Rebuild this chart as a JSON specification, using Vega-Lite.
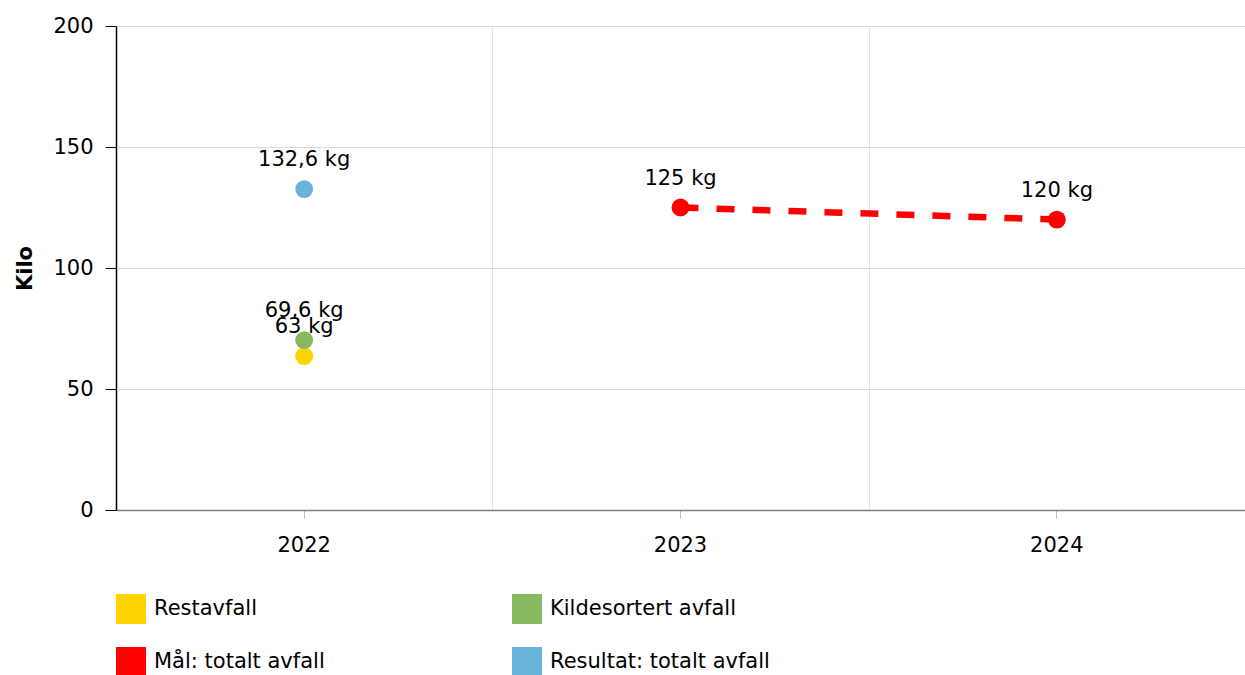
{
  "$schema": "https://vega.github.io/schema/vega-lite/v6.json",
  "autosize": {"type": "none"},
  "padding": {"left": 116, "top": 26, "right": 0, "bottom": 165},
  "width": 1129,
  "height": 484,
  "background": "white",
  "config": {
    "font": "DejaVu Sans",
    "view": {"stroke": null},
    "axis": {"labelFont": "DejaVu Sans", "titleFont": "DejaVu Sans", "labelColor": "black", "titleColor": "black"}
  },
  "data": {
    "values": [
      {"year": "2022", "series": "Restavfall", "value": 63.6, "label": "63 kg"},
      {"year": "2022", "series": "Kildesortert avfall", "value": 70.2, "label": "69,6 kg"},
      {"year": "2022", "series": "Resultat: totalt avfall", "value": 132.6, "label": "132,6 kg"},
      {"year": "2023", "series": "Mål: totalt avfall", "value": 125, "label": "125 kg"},
      {"year": "2024", "series": "Mål: totalt avfall", "value": 120, "label": "120 kg"}
    ]
  },
  "encoding": {
    "x": {"field": "year", "type": "ordinal", "scale": {"domain": ["2022", "2023", "2024"], "paddingInner": 0, "paddingOuter": 0}},
    "y": {"field": "value", "type": "quantitative", "scale": {"domain": [0, 200]},
      "axis": {"values": [0, 50, 100, 150, 200], "title": "Kilo", "titleFontSize": 21, "titleFontWeight": "bold", "titlePadding": 17,
        "labelFontSize": 21, "labelPadding": 12, "tickSize": 11, "tickColor": "black", "domainColor": "black", "domainWidth": 1.5,
        "gridColor": "#d9d9d9", "gridWidth": 1}}
  },
  "layer": [
    {
      "transform": [{"filter": "datum.series === 'Mål: totalt avfall'"}],
      "mark": {"type": "line", "color": "#ff0000", "strokeWidth": 6.5, "strokeDash": [18, 18]},
      "encoding": {
        "x": {"field": "year", "type": "ordinal", "axis": {"orient": "top", "tickBand": "extent", "grid": true, "gridColor": "#e3e3e3", "labels": false, "ticks": false, "domain": false, "title": null}}
      }
    },
    {
      "mark": {"type": "point", "filled": true, "opacity": 1, "size": 320, "shape": "circle"},
      "encoding": {
        "x": {"field": "year", "type": "ordinal", "axis": {"orient": "bottom", "grid": false, "title": null, "labelAngle": 0, "labelFontSize": 21, "labelPadding": 16, "tickSize": 8, "tickColor": "#bbbbbb", "domainColor": "#808080", "domainWidth": 1.5}},
        "color": {"field": "series", "type": "nominal",
          "scale": {"domain": ["Restavfall", "Kildesortert avfall", "Mål: totalt avfall", "Resultat: totalt avfall"], "range": ["#ffd500", "#86b961", "#ff0000", "#6ab4dc"]},
          "legend": {"orient": "none", "legendX": 0, "legendY": 568, "columns": 2, "direction": "horizontal", "title": null, "symbolType": "square", "symbolSize": 900, "symbolStrokeWidth": 0, "symbolOpacity": 1, "labelFontSize": 21, "labelColor": "black", "labelOffset": 8, "columnPadding": 187, "rowPadding": 23, "labelLimit": 400}}
      }
    },
    {
      "mark": {"type": "text", "dy": -29, "fontSize": 21, "color": "black"},
      "encoding": {
        "x": {"field": "year", "type": "ordinal", "axis": null},
        "text": {"field": "label"}
      }
    }
  ],
  "resolve": {"axis": {"x": "independent"}}
}
